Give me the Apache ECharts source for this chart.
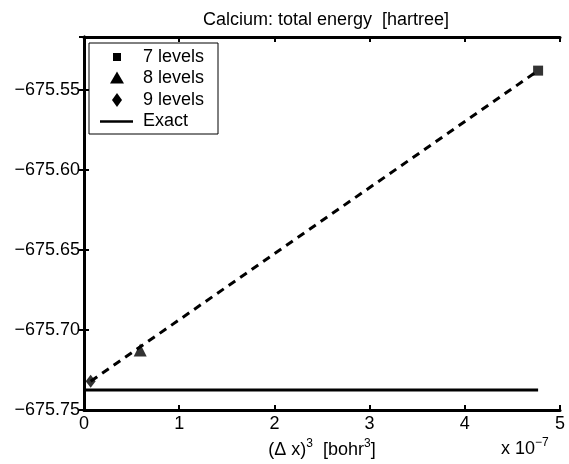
<!DOCTYPE html>
<html>
<head>
<meta charset="utf-8">
<script src="https://cdn.jsdelivr.net/npm/echarts@6/dist/echarts.min.js"></script>
<style>
  html, body { margin: 0; padding: 0; background: #fff; }
  #chart { width: 569px; height: 464px; }
</style>
</head>
<body>
<div id="chart"></div>
<script>
// data, x in units of 1e-7 bohr^3
const levelNames = ['7 levels', '8 levels', '9 levels'];
const levelX = [4.77, 0.59, 0.07];
const levelY = [-675.538, -675.7125, -675.732];
const levelSymbols = ['rect', 'triangle', 'diamond'];
const levelSizes = [10, 13, [10, 13]];
const exactX = [0, 4.77];
const exactY = [-675.7375, -675.7375];
const fitX = [0.07, 4.77];
const fitY = [-675.732, -675.538];
const xTicks = [0, 1, 2, 3, 4, 5];
const yMin = -675.75, yMax = -675.517;

const font = 'Liberation Sans, Arial, Helvetica, sans-serif';
const fmtY = v => '\u2212' + Math.abs(v).toFixed(2);

const chart = echarts.init(document.getElementById('chart'));

const series = levelNames.map((name, i) => ({
  name: name,
  type: 'scatter',
  symbol: levelSymbols[i],
  symbolSize: levelSizes[i],
  itemStyle: { color: '#000' },
  z: 5,
  data: [[levelX[i], levelY[i]]]
}));

series.push({
  name: 'Exact',
  type: 'line',
  showSymbol: false,
  lineStyle: { color: '#000', width: 3 },
  data: exactX.map((x, i) => [x, exactY[i]])
});

// dashed extrapolation line
series.push({
  name: 'fit',
  type: 'line',
  showSymbol: false,
  lineStyle: { color: '#000', width: 3, type: [8, 6] },
  data: fitX.map((x, i) => [x, fitY[i]])
});

const axisCommon = {
  axisLine: { lineStyle: { color: '#000', width: 3 } },
  axisTick: { inside: true, length: 5, lineStyle: { color: '#000', width: 2 } },
  splitLine: { show: false }
};

// legend box drawn by hand (matlab style)
const legendItems = levelNames.concat(['Exact']);
const lgX = 89, lgY = 43, rowH = 21.5, mx = 117, tx = 143;
const legendGraphics = [{
  type: 'rect',
  shape: { x: lgX, y: lgY, width: 129, height: 91 },
  style: { fill: '#fff', stroke: '#000', lineWidth: 1 },
  z: 10
}];
const markerShape = (kind, cx, cy) => {
  if (kind === 'rect') {
    return { type: 'rect', shape: { x: cx - 4, y: cy - 4, width: 8, height: 8 } };
  }
  if (kind === 'triangle') {
    return { type: 'polygon', shape: { points: [[cx, cy - 7], [cx + 7, cy + 5], [cx - 7, cy + 5]] } };
  }
  return { type: 'polygon', shape: { points: [[cx, cy - 7], [cx + 5, cy], [cx, cy + 7], [cx - 5, cy]] } };
};
legendItems.forEach((name, i) => {
  const cy = lgY + 14 + i * rowH;
  if (i < levelSymbols.length) {
    legendGraphics.push(Object.assign(markerShape(levelSymbols[i], mx, cy), {
      style: { fill: '#000' }, z: 11
    }));
  } else {
    legendGraphics.push({
      type: 'line', shape: { x1: 100, y1: cy, x2: 133, y2: cy },
      style: { stroke: '#000', lineWidth: 2.5 }, z: 11
    });
  }
  legendGraphics.push({
    type: 'text', x: tx, y: cy, z: 11,
    style: { text: name, font: '18px ' + font, fill: '#000', verticalAlign: 'middle' }
  });
});

chart.setOption({
  animation: false,
  backgroundColor: '#fff',
  textStyle: { fontFamily: font },
  title: {
    text: 'Calcium: total energy  [hartree]',
    left: 321,
    textAlign: 'center',
    top: 6,
    textStyle: { fontFamily: font, fontSize: 18, fontWeight: 'normal', color: '#000' }
  },
  grid: { left: 84, right: 9, top: 37, bottom: 52 },
  xAxis: [
    Object.assign({
      type: 'value', min: xTicks[0], max: xTicks[xTicks.length - 1], interval: 1, position: 'bottom',
      axisLabel: { color: '#000', fontSize: 18, margin: 5 },
      name: '{b|(\u0394 x)}{s|3}{b|  [bohr}{s|3}{b|]}',
      nameLocation: 'middle',
      nameGap: 26,
      nameTextStyle: {
        rich: {
          b: { fontFamily: font, fontSize: 18, color: '#000', verticalAlign: 'bottom' },
          s: { fontFamily: font, fontSize: 12, color: '#000', verticalAlign: 'top', padding: [0, 0, 9, 0] }
        }
      }
    }, axisCommon),
    Object.assign({
      type: 'value', min: xTicks[0], max: xTicks[xTicks.length - 1], interval: 1, position: 'top',
      axisLabel: { show: false }
    }, axisCommon)
  ],
  yAxis: [
    Object.assign({
      type: 'value', min: yMin, max: yMax, interval: 0.05, position: 'left',
      axisLabel: { color: '#000', fontSize: 18, margin: 4, formatter: fmtY, showMaxLabel: false }
    }, axisCommon),
    Object.assign({
      type: 'value', min: yMin, max: yMax, interval: 0.05, position: 'right',
      axisLabel: { show: false }
    }, axisCommon)
  ],
  graphic: legendGraphics.concat([{
    type: 'text',
    left: 501,
    top: 437,
    style: {
      text: '{b|x 10}{s|\u22127}',
      rich: {
        b: { fontFamily: font, fontSize: 18, fill: '#000', verticalAlign: 'bottom' },
        s: { fontFamily: font, fontSize: 12, fill: '#000', verticalAlign: 'top', padding: [0, 0, 9, 0] }
      }
    }
  }]),
  series: series
});
</script>
</body>
</html>
